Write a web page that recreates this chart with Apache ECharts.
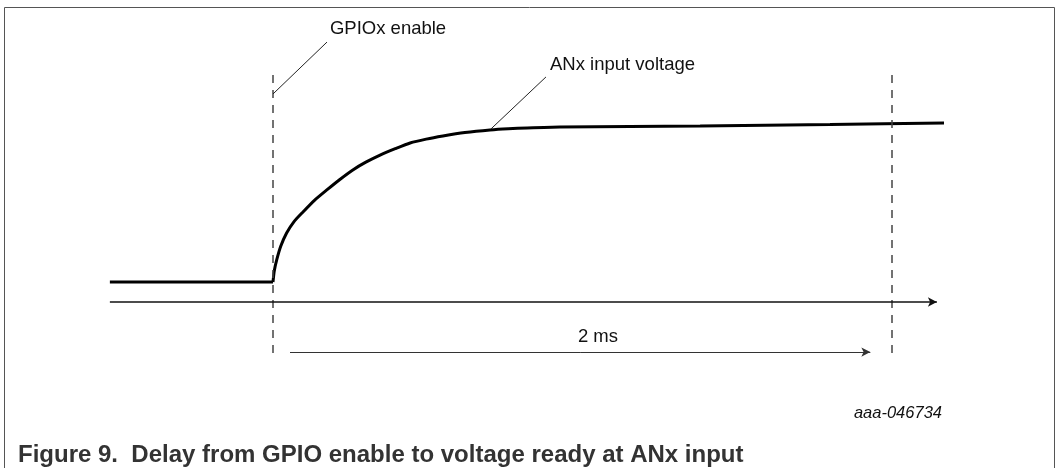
<!DOCTYPE html>
<html>
<head>
<meta charset="utf-8">
<script src="https://cdn.jsdelivr.net/npm/echarts@6/dist/echarts.min.js"></script>
<style>
html, body { margin: 0; padding: 0; background: #fff; }
#chart { width: 1061px; height: 468px; }
</style>
</head>
<body>
<div id="chart"></div>
<script>
// time in ms (0 = GPIOx enable), voltage normalised to the settled level
var baseTime = [-0.527, 0];
var baseVolt = [0, 0];
var riseTime = [0, 0.004, 0.012, 0.025, 0.044, 0.068, 0.097, 0.134, 0.174, 0.215, 0.258, 0.3, 0.346, 0.395, 0.443, 0.495, 0.549, 0.62, 0.701, 0.76, 0.821, 0.927, 1.38, 1.8, 2.168];
var riseVolt = [0, 0.07, 0.142, 0.23, 0.316, 0.39, 0.452, 0.527, 0.594, 0.66, 0.723, 0.773, 0.819, 0.86, 0.897, 0.922, 0.942, 0.964, 0.981, 0.989, 0.994, 1.0, 1.006, 1.016, 1.026];
var markTimes = [0, 2];          // GPIO enable, voltage ready
var delayText = '2 ms';
var gpioText = 'GPIOx enable';
var anxText = 'ANx input voltage';
var captionText = 'Figure 9.  Delay from GPIO enable to voltage ready at ANx input';
var figId = 'aaa-046734';

function pairs(xs, ys) {
    var out = [];
    for (var i = 0; i < xs.length; i++) out.push([xs[i], ys[i]]);
    return out;
}

var font = 'Liberation Sans, Arial, sans-serif';
var chart = echarts.init(document.getElementById('chart'));

// dashed markers
var dashLines = markTimes.map(function (t) {
    return [{ coord: [t, 1.335], lineStyle: { color: '#444', width: 1.5, type: [8, 7] } },
            { coord: [t, -0.49] }];
});

var option = {
    animation: false,
    grid: { left: 0, right: 0, top: 0, bottom: 0 },
    xAxis: { type: 'value', min: -0.882, max: 2.546, show: false },
    yAxis: { type: 'value', min: -1.2, max: 1.8194, show: false },
    graphic: [
        { type: 'rect', shape: { x: 4.5, y: 7.5, width: 1050, height: 520 },
          style: { fill: 'none', stroke: '#555', lineWidth: 1 }, silent: true },
        { type: 'text', x: 18, y: 455,
          style: { text: captionText, font: 'bold 24px ' + font, fill: '#333', align: 'left', verticalAlign: 'middle' } },
        { type: 'text', x: 942, y: 413,
          style: { text: figId, font: 'italic 16.5px ' + font, fill: '#111', align: 'right', verticalAlign: 'middle' } }
    ],
    series: [
        {
            type: 'line', data: pairs(baseTime, baseVolt), symbol: 'none', clip: false,
            lineStyle: { color: '#000', width: 3 }
        },
        {
            type: 'line', data: pairs(riseTime, riseVolt), symbol: 'none', clip: false,
            smooth: 0.2,
            lineStyle: { color: '#000', width: 3 },
            markLine: {
                silent: true, animation: false, symbol: 'none',
                label: { show: false },
                data: dashLines.concat([
                    // time axis
                    [{ coord: [-0.527, -0.129], lineStyle: { color: '#111', width: 1.5, type: 'solid' } },
                     { coord: [2.145, -0.129], symbol: 'arrow', symbolSize: [7, 9] }],
                    // delay arrow
                    [{ coord: [0.055, -0.452], lineStyle: { color: '#333', width: 1, type: 'solid' } },
                     { coord: [1.93, -0.452], symbol: 'arrow', symbolSize: [7, 9] }],
                    // leaders
                    [{ coord: [0.1745, 1.548], lineStyle: { color: '#222', width: 1, type: 'solid' } },
                     { coord: [0, 1.213] }],
                    [{ coord: [0.882, 1.323], lineStyle: { color: '#222', width: 1, type: 'solid' } },
                     { coord: [0.704, 0.987] }]
                ])
            },
            markPoint: {
                silent: true, symbol: 'circle', symbolSize: 0,
                label: { show: true, position: 'right', distance: 0, fontFamily: font, fontSize: 18.5, color: '#111' },
                data: [
                    { coord: [0.184, 1.632], label: { formatter: gpioText } },
                    { coord: [0.895, 1.4], label: { formatter: anxText } },
                    { coord: [1.05, -0.352], label: { formatter: delayText, position: 'inside' } }
                ]
            }
        }
    ]
};

chart.setOption(option);
</script>
</body>
</html>
